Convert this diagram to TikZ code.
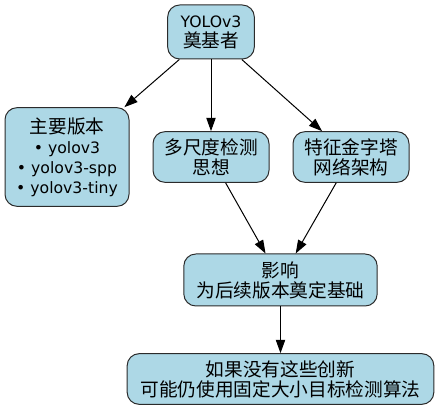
\documentclass[tikz,border=0pt]{standalone}
\usepackage{fontspec}
\setmainfont{Noto Sans CJK SC}
\newfontfamily\latin[Scale=0.84]{DejaVu Sans}
\usepackage{xcolor}
\usepackage{tikz}
\usetikzlibrary{arrows.meta}
\definecolor{cbox}{HTML}{ADD8E6}
\definecolor{cline}{HTML}{2B2B2B}
\tikzset{>={Triangle[length=10pt,width=7pt]}}
\tikzset{
  box/.style={draw=cline,fill=cbox,line width=0.75pt,rounded corners=9pt,
    align=center,inner sep=0pt},
  link/.style={->,black,line width=0.75pt}
}

\begin{document}
\begin{tikzpicture}[x=0.75pt,y=-0.75pt,font=\fontsize{14}{15}\selectfont]
\useasboundingbox (0,0) rectangle (439,409);

% ===== nodes =====
\node[box,minimum width=65pt,minimum height=40.5pt] (yolo) at (211,32) {{\latin YOLOv3}\\奠基者};
\node[box,minimum width=93pt,minimum height=74pt] (versions) at (67,157)
  {主要版本\\{\latin • yolov3}\\{\latin • yolov3-spp}\\{\latin • yolov3-tiny}};
\node[box,minimum width=87pt,minimum height=38pt] (multiscale) at (211,157) {多尺度检测\\思想};
\node[box,minimum width=87pt,minimum height=38pt] (fpn) at (351,157) {特征金字塔\\网络架构};
\node[box,minimum width=145pt,minimum height=39pt] (impact) at (280.5,280) {影响\\为后续版本奠定基础};
\node[box,minimum width=230pt,minimum height=38pt] (without) at (280.5,379) {如果没有这些创新\\可能仍使用固定大小目标检测算法};

% ===== edges =====
\draw[link] (yolo) -- (versions);
\draw[link] (yolo) -- (multiscale);
\draw[link] (yolo) -- (fpn);
\draw[link] (multiscale) -- (impact);
\draw[link] (fpn) -- (impact);
\draw[link] (impact) -- (without);

\end{tikzpicture}
\end{document}
